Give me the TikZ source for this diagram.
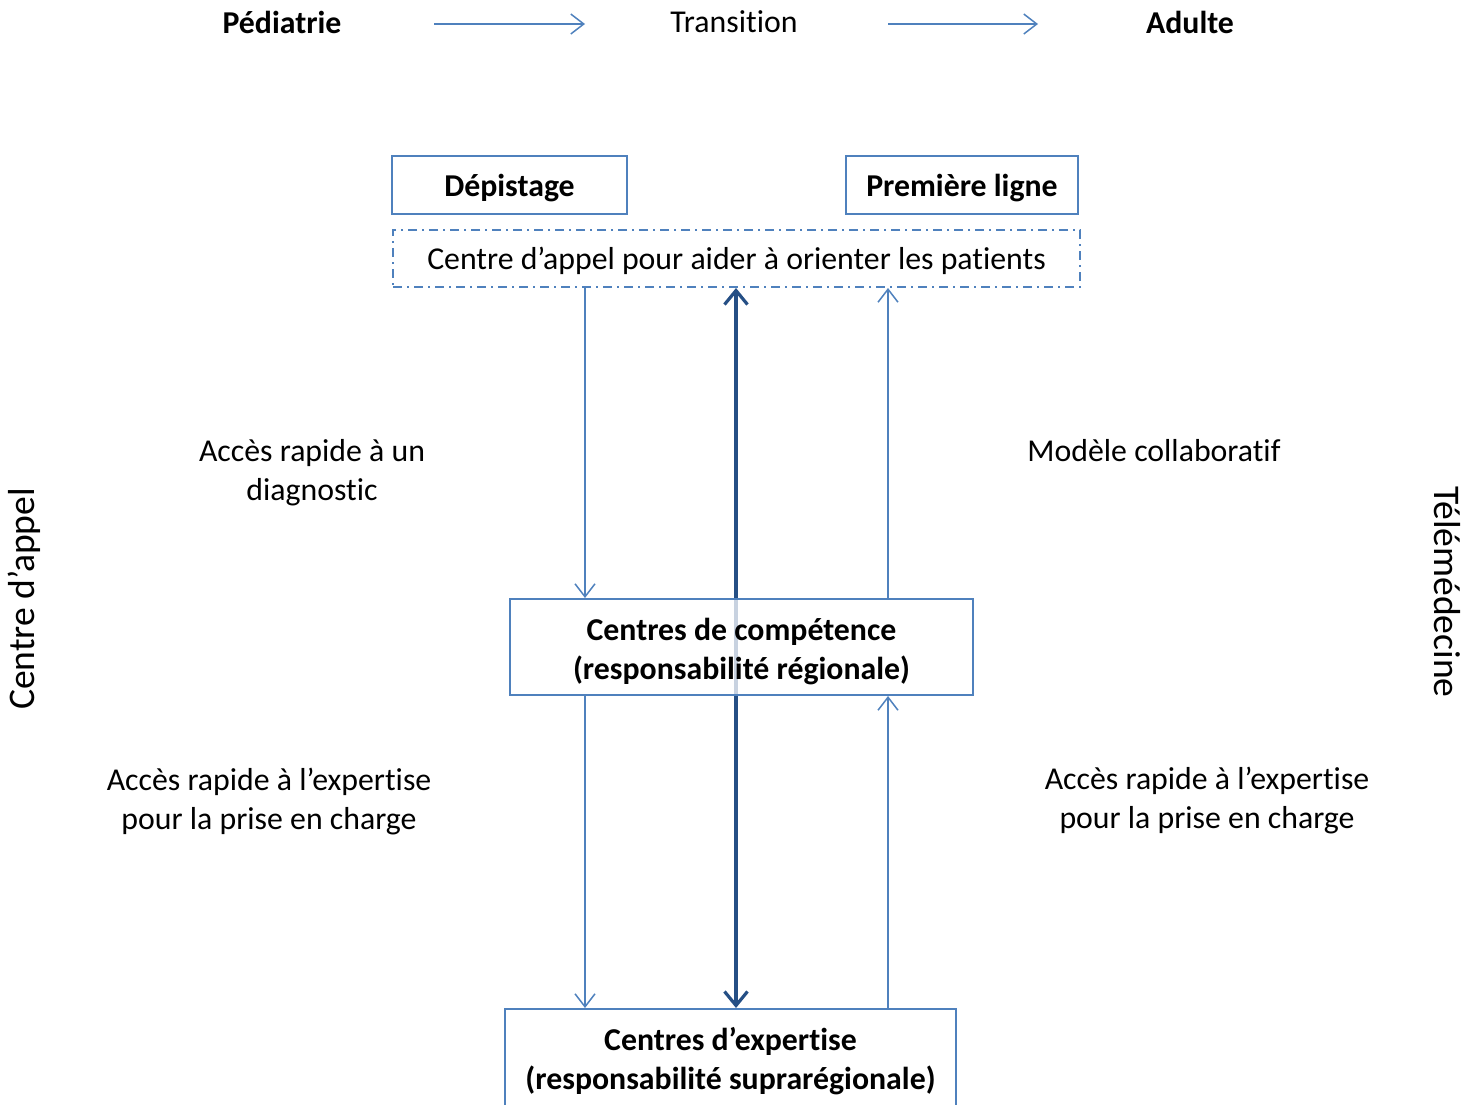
\documentclass[tikz,border=0pt]{standalone}
\usepackage{fontspec}
\setmainfont{Carlito}[Ligatures=NoCommon, RawFeature={-liga;-clig}]
\usetikzlibrary{arrows.meta}
\definecolor{boxblue}{HTML}{4F81BD}
\definecolor{darkblue}{HTML}{254F85}
\tikzset{
  lbl/.style={inner sep=0pt, align=center, font=\fontsize{15.9}{19.5}\selectfont},
  blbl/.style={lbl, font=\fontsize{15.9}{19.5}\selectfont\bfseries},
  biglbl/.style={inner sep=0pt, font=\fontsize{18.8}{22}\selectfont},
  oneline/.style={text height=15pt, text depth=3.6pt},
  boxnode/.style={draw=boxblue, line width=1pt, inner sep=0pt, align=center, font=\fontsize{15.9}{19.5}\selectfont\bfseries},
  callbox/.style={draw=boxblue, line width=1pt, inner sep=0pt, dash pattern=on 4.5pt off 2.5pt on 1pt off 2.5pt, font=\fontsize{15.9}{19.5}\selectfont},
  thinarrow/.style={draw=boxblue, line width=0.75pt, -{Straight Barb[length=6.5pt, width=10pt, line width=0.75pt]}},
  thickarrow/.style={draw=darkblue, line width=1.8pt, {Straight Barb[length=7pt, width=11.5pt, line width=1.6pt]}-{Straight Barb[length=7pt, width=11.5pt, line width=1.6pt]}}
}
\begin{document}
\begin{tikzpicture}[x=0.5pt, y=-0.5pt]
\useasboundingbox (0,0) rectangle (1483,1104);
\clip (0,0) rectangle (1483,1104);
% header
\node[blbl] (ped) at (282,22) {Pédiatrie};
\node[lbl] (trans) at (734,22) {Transition};
\node[blbl] (adu) at (1190,22) {Adulte};
\coordinate (a1s) at (434,24);
\coordinate (a1e) at (585,24);
\coordinate (a2s) at (888,24);
\coordinate (a2e) at (1038,24);
\draw[thinarrow] (a1s) -- (a1e);
\draw[thinarrow] (a2s) -- (a2e);
% column x-coordinates
\coordinate (xl) at (585,0);
\coordinate (xc) at (736,0);
\coordinate (xr) at (888,0);
% top boxes
\node[boxnode, oneline, minimum width=117.5pt, minimum height=29pt] (dep) at (509.5,185) {Dépistage};
\node[boxnode, oneline, minimum width=116pt, minimum height=29pt] (prem) at (962,185) {Première ligne};
\node[callbox, oneline, minimum width=343.5pt, minimum height=28.5pt] (call) at (736.5,258.5) {Centre d’appel pour aider à orienter les patients};
% bottom box
\node[boxnode, minimum width=225.5pt, minimum height=50pt] (cde) at (730.5,1059) {};
\node[boxnode, draw=none] (cdetxt) at (730.5,1061) {Centres d’expertise\\(responsabilité suprarégionale)};
% thick double arrow (behind CdC box)
\draw[thickarrow] (call.south -| xc) -- (cde.north -| xc);
% CdC box
\node[boxnode, fill=white, fill opacity=0.75, minimum width=231.5pt, minimum height=48pt] (cdc) at (741.5,647) {};
\node[boxnode, draw=none] (cdctxt) at (741.5,651.5) {Centres de compétence\\(responsabilité régionale)};
% thin arrows
\draw[thinarrow] (call.south -| xl) -- (cdc.north -| xl);
\draw[thinarrow] (cdc.north -| xr) -- (call.south -| xr);
\draw[thinarrow] (cdc.south -| xl) -- (cde.north -| xl);
\draw[thinarrow] (cde.north -| xr) -- (cdc.south -| xr);
% labels
\node[lbl] (diag) at (312,472.5) {Accès rapide à un\\diagnostic};
\node[lbl] (collab) at (1154,451) {Modèle collaboratif};
\node[lbl] (expl) at (269,802) {Accès rapide à l’expertise\\pour la prise en charge};
\node[lbl] (expr) at (1207,801) {Accès rapide à l’expertise\\pour la prise en charge};
\node[biglbl, rotate=90] (cappel) at (24,599) {Centre d’appel};
\node[biglbl, rotate=-90] (tele) at (1447,592) {Télémédecine};
\end{tikzpicture}
\end{document}
